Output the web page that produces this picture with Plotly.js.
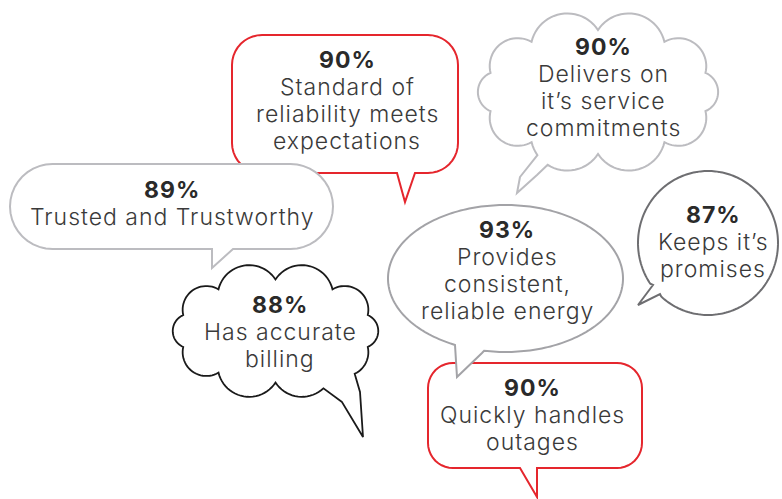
<!DOCTYPE html>
<html>
<head>
<meta charset="utf-8">
<script src="https://cdn.plot.ly/plotly-3.0.1.min.js"></script>
<style>
html,body{margin:0;padding:0;background:#fff;}
#chart{width:782px;height:499px;}
.annotation-text{letter-spacing:1px;}
</style>
</head>
<body>
<div id="chart"></div>
<script>
// ---- data ----
var values = [89, 90, 90, 88, 93, 90, 87];
var labelLines = [
  ["Trusted and Trustworthy"],
  ["Standard of", "reliability meets", "expectations"],
  ["Delivers on", "it\u2019s service", "commitments"],
  ["Has accurate", "billing"],
  ["Provides", "consistent,", "reliable energy"],
  ["Quickly handles", "outages"],
  ["Keeps it\u2019s", "promises"]
];

// ---- layout of bubbles (positions/styles, pixel space) ----
var textX = [172, 347, 603, 280, 507, 532, 713];
var textY0 = [190, 60, 47, 305, 230, 388, 215];
var lineH = 27;
var bubbleKind = ["pill", "rect", "cloud", "cloud", "ellipse", "rect", "ellipse"];
var bubbleGeom = [
  {x0:10, y0:164, x1:333, y1:249, r:42.5},
  {x0:232, y0:35, x1:458, y1:173, r:30},
  {cx:598, cy:92, a:113, b:62, n:10, h:0.33, ph:0.314},
  {cx:275.5, cy:331, a:97, b:51.5, n:10, h:0.33, ph:0.314},
  {cx:505.5, cy:278.5, a:117.5, b:73.5},
  {x0:428, y0:363, x1:642, y1:468, r:25},
  {cx:708, cy:243, a:70, b:72}
];
var tails = [
  [[233,249],[212,268],[212,249]],
  [[397,173],[405,202],[415,173]],
  [[520,177],[517,193],[537,175]],
  [[342,402],[363,437],[360,392]],
  [[455,345],[457,377],[482,353]],
  [[520,468],[537,497],[537,468]],
  [[653,285],[638,305],[660,294]]
];
var strokeColors = ["#bcbcc0", "#e5262d", "#bcbcc0", "#1a1a1a", "#a3a3a7", "#e5262d", "#6e6e71"];
var strokeWidths = [2, 2, 2, 1.8, 2, 2, 2];
var drawOrder = [1, 0, 2, 6, 3, 5, 4];

// ---- geometry helpers ----
function roundRectPts(g) {
  var pts = [], r = g.r, steps = 10;
  var corners = [
    [g.x1 - r, g.y0 + r, -Math.PI/2, 0],
    [g.x1 - r, g.y1 - r, 0, Math.PI/2],
    [g.x0 + r, g.y1 - r, Math.PI/2, Math.PI],
    [g.x0 + r, g.y0 + r, Math.PI, 1.5*Math.PI]
  ];
  corners.forEach(function(c){
    for (var i = 0; i <= steps; i++) {
      var t = c[2] + (c[3]-c[2]) * i/steps;
      pts.push([c[0] + r*Math.cos(t), c[1] + r*Math.sin(t)]);
    }
  });
  var out = [];
  for (var i = 0; i < pts.length; i++) {
    var p = pts[i], q = pts[(i+1)%pts.length];
    var d = Math.hypot(q[0]-p[0], q[1]-p[1]);
    var m = Math.max(1, Math.ceil(d/4));
    for (var j = 0; j < m; j++) out.push([p[0]+(q[0]-p[0])*j/m, p[1]+(q[1]-p[1])*j/m]);
  }
  return out;
}
function ellipsePts(g) {
  var pts = [], n = 240;
  for (var i = 0; i < n; i++) {
    var t = 2*Math.PI*i/n;
    pts.push([g.cx + g.a*Math.cos(t), g.cy + g.b*Math.sin(t)]);
  }
  return pts;
}
function cloudPts(g) {
  var base = [], pts = [];
  for (var k = 0; k < g.n; k++) {
    var t = 2*Math.PI*k/g.n + g.ph;
    base.push([g.cx + g.a*Math.cos(t), g.cy + g.b*Math.sin(t)]);
  }
  for (var k = 0; k < g.n; k++) {
    var p = base[k], q = base[(k+1)%g.n];
    var dx = q[0]-p[0], dy = q[1]-p[1];
    var c = Math.hypot(dx, dy);
    var mx = (p[0]+q[0])/2, my = (p[1]+q[1])/2;
    var nx = dy/c, ny = -dx/c;
    if (nx*(mx-g.cx) + ny*(my-g.cy) < 0) { nx = -nx; ny = -ny; }
    var h = g.h * c;
    var R = (c*c/4 + h*h)/(2*h);
    var ox = mx - nx*(R-h), oy = my - ny*(R-h);
    var a0 = Math.atan2(p[1]-oy, p[0]-ox), a1 = Math.atan2(q[1]-oy, q[0]-ox);
    var am = Math.atan2(my + ny*h - oy, mx + nx*h - ox);
    var da = a1 - a0;
    while (da > Math.PI) da -= 2*Math.PI;
    while (da < -Math.PI) da += 2*Math.PI;
    var mid = a0 + da/2;
    var diff = Math.abs(Math.atan2(Math.sin(mid-am), Math.cos(mid-am)));
    if (diff > Math.PI/2) da = da > 0 ? da - 2*Math.PI : da + 2*Math.PI;
    var steps = 24;
    for (var i = 0; i < steps; i++) {
      var a = a0 + da*i/steps;
      pts.push([ox + R*Math.cos(a), oy + R*Math.sin(a)]);
    }
  }
  return pts;
}
function nearest(pts, p) {
  var best = 0, bd = 1e9;
  for (var i = 0; i < pts.length; i++) {
    var d = Math.hypot(pts[i][0]-p[0], pts[i][1]-p[1]);
    if (d < bd) { bd = d; best = i; }
  }
  return best;
}
function withTail(pts, tail) {
  var n = pts.length;
  var iA = nearest(pts, tail[0]), iB = nearest(pts, tail[2]);
  var A = tail[0], B = tail[2];
  if ((iB - iA + n) % n > n/2) { var t = iA; iA = iB; iB = t; var tp = A; A = B; B = tp; }
  var out = [B];
  var cnt = (iA - iB + n) % n;
  for (var s = 1; s < cnt; s++) out.push(pts[(iB + s) % n]);
  out.push(A);
  out.push(tail[1]);
  return out;
}
function toPath(pts) {
  return "M" + pts.map(function(p){ return p[0].toFixed(2) + "," + p[1].toFixed(2); }).join(" L") + " Z";
}

var shapes = [];
drawOrder.forEach(function(idx){
  var kind = bubbleKind[idx], g = bubbleGeom[idx], pts;
  if (kind === "rect" || kind === "pill") pts = roundRectPts(g);
  else if (kind === "cloud") pts = cloudPts(g);
  else pts = ellipsePts(g);
  shapes.push({
    type: "path", xref: "x", yref: "y",
    path: toPath(withTail(pts, tails[idx])),
    fillcolor: "#ffffff",
    line: {color: strokeColors[idx], width: strokeWidths[idx]},
    layer: "above"
  });
});

var annotations = [];
var fontFam = "Inter, 'Open Sans', sans-serif";
values.forEach(function(v, i){
  var lines = [v + "%"].concat(labelLines[i]);
  lines.forEach(function(txt, j){
    annotations.push({
      x: textX[i], y: textY0[i] + j*lineH, xref: "x", yref: "y",
      text: j === 0 ? "<b>" + txt + "</b>" : txt,
      showarrow: false, xanchor: "center", yanchor: "middle",
      font: {family: fontFam, size: 23, color: j === 0 ? "#2a2a2a" : "#3a3a3a", weight: j === 0 ? 700 : 300}
    });
  });
});

var layout = {
  width: 782, height: 499,
  margin: {l:0, r:0, t:0, b:0},
  paper_bgcolor: "#ffffff", plot_bgcolor: "#ffffff",
  xaxis: {range: [0, 782], visible: false, fixedrange: true},
  yaxis: {range: [499, 0], visible: false, fixedrange: true},
  showlegend: false,
  shapes: shapes,
  annotations: annotations
};
Plotly.newPlot("chart", [{x: [], y: [], type: "scatter", mode: "markers", hoverinfo: "skip"}], layout, {displayModeBar: false, staticPlot: true});
</script>
</body>
</html>
